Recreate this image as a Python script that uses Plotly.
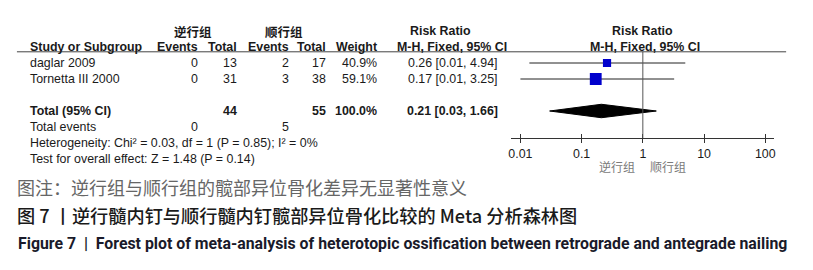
import plotly.graph_objects as go

# ---------------- data ----------------
studies = ["daglar 2009", "Tornetta III 2000"]
retro_events = [0, 0]
retro_total = [13, 31]
ante_events = [2, 3]
ante_total = [17, 38]
weights = [40.9, 59.1]
rr = [0.26, 0.17]
rr_lo = [0.014, 0.01]
rr_hi = [4.94, 3.25]
rr_text = ["0.26 [0.01, 4.94]", "0.17 [0.01, 3.25]"]

total_label = "Total (95% CI)"
total_retro = 44
total_ante = 55
total_weight = "100.0%"
pooled = 0.21
pooled_lo = 0.03
pooled_hi = 1.66
pooled_text = "0.21 [0.03, 1.66]"
events_retro_sum = 0
events_ante_sum = 5
heterogeneity = "Heterogeneity: Chi² = 0.03, df = 1 (P = 0.85); I² = 0%"
overall = "Test for overall effect: Z = 1.48 (P = 0.14)"

tick_vals = [0.01, 0.1, 1, 10, 100]
tick_text = ["0.01", "0.1", "1", "10", "100"]
favours = ["逆行组", "顺行组"]
group_names = ["逆行组", "顺行组"]

footnote = "图注：逆行组与顺行组的髋部异位骨化差异无显著性意义"
title_cn = "图 7 丨逆行髓内钉与顺行髓内钉髋部异位骨化比较的 Meta 分析森林图"
title_en = "Figure 7  |  Forest plot of meta-analysis of heterotopic ossification between retrograde and antegrade nailing"

# ---------------- layout constants ----------------
W, H = 813, 270
ROW_PX = 16.0
ROW0_PX = 31.0
def px(xp):
    return xp / W

row_group = 0
row_header = 1
row_line = 1.3
row_study = [2, 3]
row_total = 5
row_events = 6
row_het = 7
row_test = 8
axis_px = 138

FONT = "Liberation Sans, Arial, sans-serif"
CJK = "Noto Sans CJK SC"
FS = 12.4
TXT = "#1a1a1a"

fig = go.Figure()

# CI lines
for i in range(len(studies)):
    fig.add_trace(go.Scatter(x=[rr_lo[i], rr_hi[i]], y=[row_study[i], row_study[i]],
                             mode="lines", line=dict(color="#222222", width=1),
                             hoverinfo="skip", showlegend=False))
# squares
fig.add_trace(go.Scatter(x=rr, y=row_study, mode="markers",
                         marker=dict(symbol="square", color="#0000CC", opacity=1,
                                     size=[w * 0.2 for w in weights], line=dict(width=0)),
                         hoverinfo="skip", showlegend=False))
# diamond
dh = 0.42
fig.add_trace(go.Scatter(x=[pooled_lo, pooled, pooled_hi, pooled, pooled_lo],
                         y=[row_total, row_total - dh, row_total, row_total + dh, row_total],
                         mode="lines", fill="toself", fillcolor="#000000",
                         line=dict(color="#000000", width=1),
                         hoverinfo="skip", showlegend=False))
# dummy for overlay axis
fig.add_trace(go.Scatter(x=[1], y=[row_total], xaxis="x2", mode="markers",
                         marker=dict(opacity=0), hoverinfo="skip", showlegend=False))

# reference line at 1
fig.add_shape(type="line", xref="x", yref="y", x0=1, x1=1, y0=row_line,
              y1=(axis_px - ROW0_PX) / ROW_PX, line=dict(color="#555555", width=1))
# header underline
fig.add_shape(type="line", xref="paper", yref="y", x0=px(14), x1=px(787),
              y0=row_line, y1=row_line, line=dict(color="#444444", width=1))

ann = []
def text(x, y, s, anchor="left", bold=False, size=FS, font=FONT, color=TXT):
    ann.append(dict(x=px(x), y=y, xref="paper", yref="y", text=f"<b>{s}</b>" if bold else s,
                    showarrow=False, xanchor=anchor, yanchor="middle",
                    font=dict(family=font, size=size, color=color)))

# group headers
text(191, row_group, group_names[0], "center", True, 12.5, CJK)
text(282, row_group, group_names[1], "center", True, 12.5, CJK)
text(440, row_group, "Risk Ratio", "center", True)
text(643, row_group, "Risk Ratio", "center", True)
# column headers
text(25, row_header, "Study or Subgroup", "left", True)
text(198, row_header, "Events", "right", True)
text(237, row_header, "Total", "right", True)
text(289, row_header, "Events", "right", True)
text(327, row_header, "Total", "right", True)
text(378, row_header, "Weight", "right", True)
text(451, row_header, "M-H, Fixed, 95% CI", "center", True)
text(645, row_header, "M-H, Fixed, 95% CI", "center", True)
# study rows
for i, s in enumerate(studies):
    r = row_study[i]
    text(25, r, s)
    text(198, r, str(retro_events[i]), "right")
    text(237, r, str(retro_total[i]), "right")
    text(289, r, str(ante_events[i]), "right")
    text(327, r, str(ante_total[i]), "right")
    text(378, r, f"{weights[i]:.1f}%", "right")
    text(499, r, rr_text[i], "right")
# total row
text(25, row_total, total_label, "left", True)
text(237, row_total, str(total_retro), "right", True)
text(327, row_total, str(total_ante), "right", True)
text(378, row_total, total_weight, "right", True)
text(499, row_total, pooled_text, "right", True)
# events / stats
text(25, row_events, "Total events")
text(198, row_events, str(events_retro_sum), "right")
text(289, row_events, str(events_ante_sum), "right")
text(25, row_het, heterogeneity)
text(25, row_test, overall)

# favours labels
ann.append(dict(x=px(637), y=1 - 166 / H, xref="paper", yref="paper", text=favours[0],
                showarrow=False, xanchor="right", yanchor="middle",
                font=dict(family=CJK, size=12, color="#7a7a7a")))
ann.append(dict(x=px(648), y=1 - 166 / H, xref="paper", yref="paper", text=favours[1],
                showarrow=False, xanchor="left", yanchor="middle",
                font=dict(family=CJK, size=12, color="#7a7a7a")))

# captions
ann.append(dict(x=px(12), y=1 - 187 / H, xref="paper", yref="paper", text=footnote,
                showarrow=False, xanchor="left", yanchor="middle",
                font=dict(family=CJK, size=18.0, color="#666666")))
ann.append(dict(x=px(12), y=1 - 215 / H, xref="paper", yref="paper", text=title_cn,
                showarrow=False, xanchor="left", yanchor="middle",
                font=dict(family=CJK, size=18.2, color="#1a1a1a", weight=500)))
ann.append(dict(x=px(13), y=1 - 243 / H, xref="paper", yref="paper", text=f"<b>{title_en}</b>",
                showarrow=False, xanchor="left", yanchor="middle",
                font=dict(family="Liberation Sans Narrow, Roboto, sans-serif", size=15.85, color="#1a1a2a")))

dom = [px(511), px(775)]
rng = [-2.146, 2.146]
axis_pos = 1 - axis_px / H

fig.update_layout(
    width=W, height=H, margin=dict(l=0, r=0, t=0, b=0),
    paper_bgcolor="white", plot_bgcolor="white",
    annotations=ann, showlegend=False,
    xaxis=dict(type="log", domain=dom, range=rng, anchor="free", position=axis_pos,
               showline=True, linecolor="#333333", linewidth=1, showgrid=False, zeroline=False,
               ticks="outside", ticklen=4, tickcolor="#333333",
               tickvals=tick_vals, ticktext=tick_text,
               tickfont=dict(family=FONT, size=FS, color=TXT), fixedrange=True),
    xaxis2=dict(type="log", domain=dom, range=rng, anchor="free", position=axis_pos,
                overlaying="x", matches="x", showline=False, showgrid=False, zeroline=False,
                ticks="inside", ticklen=4, tickcolor="#333333",
                tickvals=tick_vals, showticklabels=False, side="bottom"),
    yaxis=dict(domain=[0, 1], range=[(H - ROW0_PX) / ROW_PX, -ROW0_PX / ROW_PX],
               visible=False, fixedrange=True),
)

fig.write_html("out.html", config={"displayModeBar": False, "staticPlot": True},
               post_script="document.body.style.margin='0';document.body.style.overflow='hidden';")
